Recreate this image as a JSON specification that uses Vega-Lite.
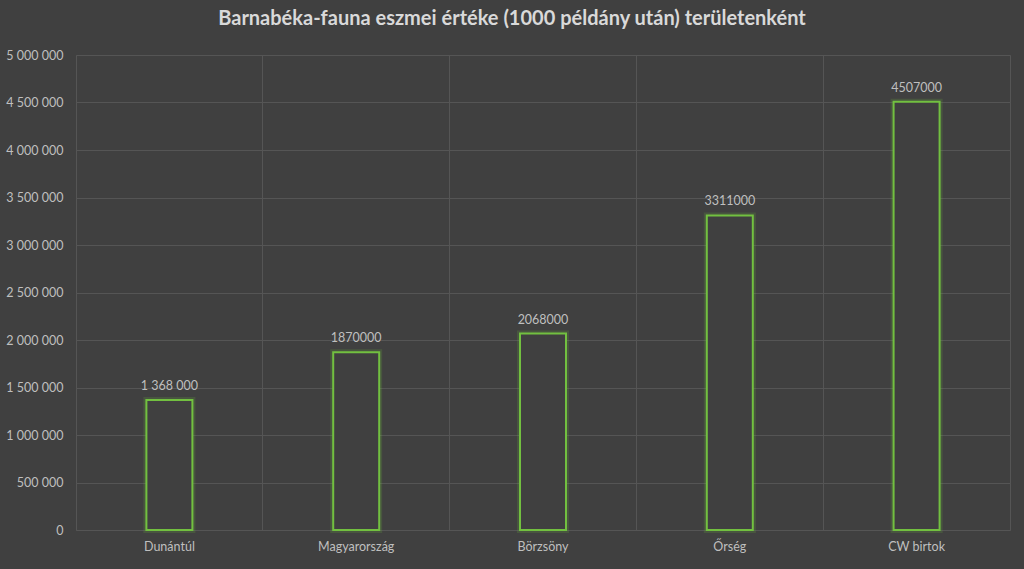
{
  "$schema": "https://vega.github.io/schema/vega-lite/v6.json",
  "width": 934,
  "height": 475,
  "autosize": {"type": "none"},
  "padding": {"left": 76, "top": 55, "right": 14, "bottom": 39},
  "background": "#404040",
  "title": {
    "text": "Barnabéka-fauna eszmei értéke (1000 példány után) területenként",
    "font": "Lato",
    "fontSize": 20,
    "fontWeight": "bold",
    "color": "#d9d9d9",
    "anchor": "middle",
    "dx": -31,
    "offset": 20
  },
  "config": {
    "locale": {"number": {"decimal": ",", "thousands": " ", "grouping": [3], "currency": ["", ""]}},
    "view": {"stroke": "#555555", "strokeWidth": 1},
    "axis": {
      "labelFont": "Lato",
      "labelFontSize": 12.5,
      "labelColor": "#bfbfbf",
      "gridColor": "#555555",
      "gridWidth": 1,
      "domain": false,
      "ticks": false,
      "title": null,
      "labelOverlap": false
    }
  },
  "data": {
    "values": [
      {"terulet": "Dunántúl", "ertek": 1368000, "label": "1 368 000"},
      {"terulet": "Magyarország", "ertek": 1870000, "label": "1870000"},
      {"terulet": "Börzsöny", "ertek": 2068000, "label": "2068000"},
      {"terulet": "Őrség", "ertek": 3311000, "label": "3311000"},
      {"terulet": "CW birtok", "ertek": 4507000, "label": "4507000"}
    ]
  },
  "encoding": {
    "x": {
      "field": "terulet",
      "type": "nominal",
      "sort": null,
      "scale": {"paddingInner": 0, "paddingOuter": 0},
      "axis": {"labelAngle": 0, "grid": true, "bandPosition": 0, "labelPadding": 10}
    },
    "y": {
      "field": "ertek",
      "type": "quantitative",
      "scale": {"domain": [0, 5000000], "nice": false},
      "axis": {"values": [0, 500000, 1000000, 1500000, 2000000, 2500000, 3000000, 3500000, 4000000, 4500000, 5000000], "format": ",d", "labelPadding": 13}
    }
  },
  "layer": [
    {
      "mark": {"type": "bar", "size": 46, "fill": "#404040", "stroke": "#6fbf3f", "strokeWidth": 6, "strokeOpacity": 0.18}
    },
    {
      "mark": {"type": "bar", "size": 46, "fill": "#404040", "stroke": "#72c040", "strokeWidth": 2}
    },
    {
      "mark": {"type": "text", "dy": -14, "font": "Lato", "fontSize": 12.5, "color": "#bfbfbf"},
      "encoding": {"text": {"field": "label"}}
    }
  ]
}
